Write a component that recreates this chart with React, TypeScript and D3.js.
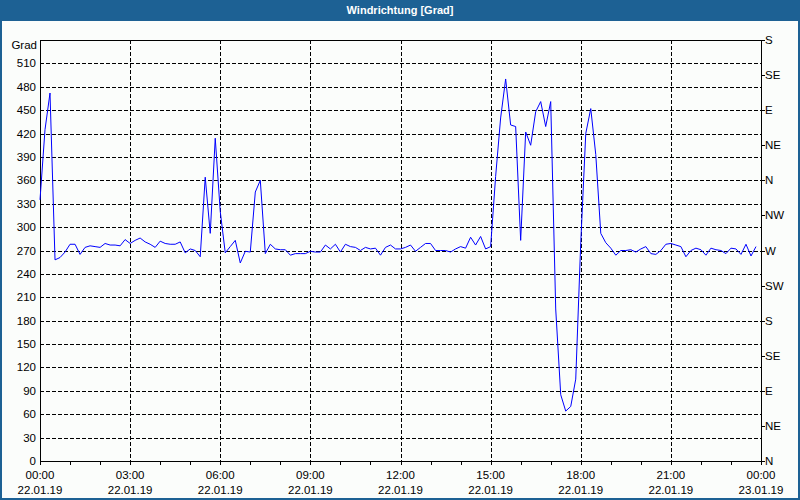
import React from "react";
import * as d3 from "d3";

const TITLE = "Windrichtung [Grad]";
const Y_UNIT = "Grad";
const START = new Date(2019, 0, 22, 0, 0);
const END = new Date(2019, 0, 23, 0, 0);
const STEP_MIN = 10;

// wind direction every 10 minutes, 00:00 .. 23:50
const values: number[] = [
  335, 425, 472, 258, 261, 268, 278, 278, 265, 274,
  276, 275, 274, 279, 277, 277, 276, 284, 279, 283,
  286, 281, 278, 274, 282, 279, 278, 278, 281, 267,
  272, 270, 262, 364, 292, 414, 320, 267, 275, 283,
  254, 269, 268, 345, 360, 266, 278, 272, 271, 271,
  264, 266, 266, 266, 269, 268, 268, 277, 272, 278,
  268, 278, 275, 274, 270, 274, 272, 273, 264, 274,
  277, 272, 272, 274, 277, 269, 274, 279, 279, 270,
  270, 270, 268, 272, 275, 273, 287, 277, 288, 272,
  275, 365, 440, 490, 431, 429, 283, 422, 405, 448,
  461, 429, 461, 195, 85, 64, 70, 105, 280, 420,
  452, 393, 292, 280, 273, 264, 270, 270, 271, 268,
  272, 275, 266, 265, 270, 278, 279, 277, 275, 262,
  270, 273, 271, 264, 273, 271, 270, 266, 273, 272,
  265, 278, 263, 275,
];

const leftTicks: number[] = [0, 30, 60, 90, 120, 150, 180, 210, 240, 270, 300, 330, 360, 390, 420, 450, 480, 510];
const rightTicks: number[] = [0, 45, 90, 135, 180, 225, 270, 315, 360, 405, 450, 495, 540];
const rightLabels: string[] = ["N", "NE", "E", "SE", "S", "SW", "W", "NW", "N", "NE", "E", "SE", "S"];

const FONT = "'Liberation Sans', Arial, sans-serif";

export default function App() {
  const W = 800, H = 500;
  const left = 40, right = 761, top = 40, bottom = 461;
  const x = d3.scaleTime().domain([START, END]).range([left, right]);
  const y = d3.scaleLinear().domain([0, 540]).range([bottom, top]);

  const data = values.map((v, i) => ({ t: new Date(START.getTime() + i * STEP_MIN * 60000), v }));
  const line = d3.line<{ t: Date; v: number }>().x((d) => x(d.t)).y((d) => y(d.v));

  const majorTimes = d3.timeHour.every(3)!.range(START, new Date(END.getTime() + 1));
  const minorTimes = d3.timeHour.every(1)!.range(START, new Date(END.getTime() + 1));
  const fmtT = d3.timeFormat("%H:%M");
  const fmtD = d3.timeFormat("%d.%m.%y");
  const blue = "#1d6194";

  return (
    <svg width={W} height={H} style={{ position: "absolute", left: 0, top: 0, background: "#fbfdfb" }} fontFamily={FONT}>
      <rect x={0} y={0} width={W} height={H} fill="#fbfdfb" />
      <rect x={0} y={0} width={W} height={21} fill={blue} />
      <text x={400} y={11} textAnchor="middle" dominantBaseline="middle" fill="#ffffff" fontSize={11} fontWeight="bold">
        {TITLE}
      </text>
      <rect x={1} y={1} width={W - 2} height={H - 2} fill="none" stroke={blue} strokeWidth={2} />

      {/* horizontal grid */}
      {leftTicks.filter((t) => t > 0).map((t) => (
        <line key={"h" + t} x1={left} x2={right} y1={Math.round(y(t)) + 0.5} y2={Math.round(y(t)) + 0.5}
          stroke="#000" strokeDasharray="4,2" shapeRendering="crispEdges" />
      ))}
      {/* vertical grid */}
      {majorTimes.slice(1, -1).map((t) => (
        <line key={"v" + t.getTime()} x1={Math.round(x(t)) + 0.5} x2={Math.round(x(t)) + 0.5} y1={top} y2={bottom}
          stroke="#000" strokeDasharray="4,2" shapeRendering="crispEdges" />
      ))}

      {/* frame */}
      <rect x={left + 0.5} y={top + 0.5} width={right - left} height={bottom - top} fill="none" stroke="#000" shapeRendering="crispEdges" />

      {/* data line */}
      <path d={line(data) || ""} fill="none" stroke="#0000ff" strokeWidth={1} />

      {/* left labels */}
      <text x={37} y={46} textAnchor="end" dominantBaseline="middle" fontSize={11.5} fill="#000">{Y_UNIT}</text>
      {leftTicks.map((t) => (
        <text key={"l" + t} x={36} y={y(t) + 1} textAnchor="end" dominantBaseline="middle" fontSize={11.5} fill="#000">
          {t}
        </text>
      ))}

      {/* right ticks and labels */}
      {rightTicks.map((t, i) => (
        <g key={"r" + t}>
          <line x1={right} x2={right + 4} y1={Math.round(y(t)) + 0.5} y2={Math.round(y(t)) + 0.5} stroke="#000" shapeRendering="crispEdges" />
          <text x={765} y={y(t) + 1} dominantBaseline="middle" fontSize={11.5} fill="#000">{rightLabels[i]}</text>
        </g>
      ))}

      {/* bottom ticks */}
      {minorTimes.map((t) => (
        <line key={"m" + t.getTime()} x1={Math.round(x(t)) + 0.5} x2={Math.round(x(t)) + 0.5} y1={bottom} y2={bottom + 4}
          stroke="#000" shapeRendering="crispEdges" />
      ))}
      {majorTimes.map((t) => (
        <g key={"b" + t.getTime()}>
          <text x={x(t)} y={476} textAnchor="middle" dominantBaseline="middle" fontSize={11.5} fill="#000">{fmtT(t)}</text>
          <text x={x(t)} y={491} textAnchor="middle" dominantBaseline="middle" fontSize={11.5} fill="#000">{fmtD(t)}</text>
        </g>
      ))}
    </svg>
  );
}
